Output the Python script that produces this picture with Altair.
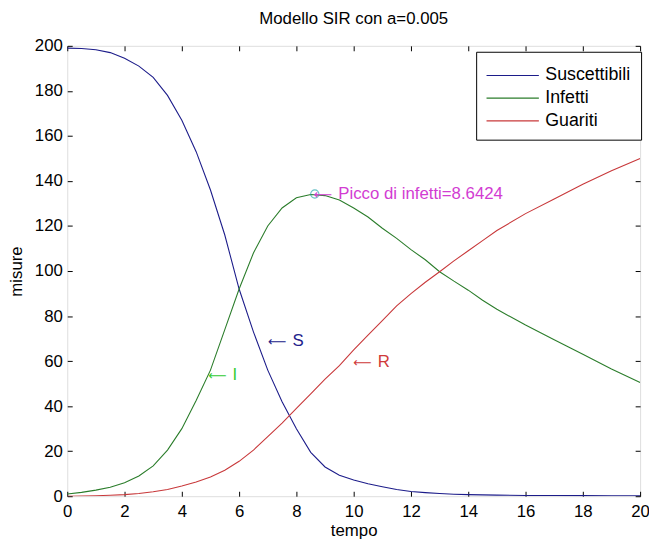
import altair as alt
import pandas as pd

FONT = "Liberation Sans, Arial, DejaVu Sans"
ARROW_FONT = "DejaVu Sans"

# time grid
t_vals = [0, 0.5, 1, 1.5, 2, 2.5, 3, 3.5, 4, 4.5, 5, 5.5, 6, 6.5, 7, 7.5, 8, 8.5, 9, 9.5,
          10, 10.5, 11, 11.5, 12, 12.5, 13, 13.5, 14, 14.5, 15, 16, 17, 18, 19, 20]
S_vals = [199, 198.8, 198.3, 197, 194.5, 191, 186, 178, 167, 153, 136, 116, 92, 73, 56, 42, 30, 19.5, 13, 9.3,
          7.2, 5.5, 4.2, 3, 2.1, 1.6, 1.2, 0.9, 0.7, 0.6, 0.5, 0.35, 0.3, 0.25, 0.2, 0.2]
I_vals = [1, 1.7, 2.7, 4, 6, 9, 13.5, 20.5, 30, 42.5, 56, 74, 92, 108, 120, 128, 132.5, 134, 133.5, 131.5,
          128, 124, 119, 114.5, 109.5, 105, 99.7, 95.5, 91.5, 87, 83, 76, 69.5, 63, 56.5, 50.5]
R_vals = [0, 0.1, 0.2, 0.4, 0.7, 1.2, 2, 3, 4.5, 6.3, 8.5, 11.5, 15.5, 20.5, 26.5, 32.5, 39, 45.5, 52, 58,
          65, 71.5, 78, 84.5, 90, 95, 99.7, 104.5, 109, 113.5, 118, 125.5, 132, 138.5, 144.5, 150]

series_names = ["Suscettibili", "Infetti", "Guariti"]
series_colors = ["#1c1c8a", "#2b7d2b", "#c8383a"]

peak_t = [8.6424]
peak_v = [134.2]

ann_text = ["Picco di infetti=8.6424", "I", "S", "R"]
ann_x = [8.6, 4.91, 7.0, 9.98]
ann_y = [134.2, 53.6, 69, 59.6]
ann_color = ["#d23cd2", "#33cc33", "#22228c", "#d03a3a"]

x_ticks = list(range(0, 21, 2))
y_ticks = list(range(0, 201, 20))

rows = []
for name, vals in zip(series_names, [S_vals, I_vals, R_vals]):
    for t, v in zip(t_vals, vals):
        rows.append({"t": t, "value": v, "series": name})
df = pd.DataFrame(rows)
peak_df = pd.DataFrame({"t": peak_t, "value": peak_v})
ann_df = pd.DataFrame({"t": ann_x, "value": ann_y, "label": ann_text, "col": ann_color,
                       "arrow": ["\u27f5"] * len(ann_text)})

xscale = alt.Scale(domain=[0, 20], nice=False, zero=False)
yscale = alt.Scale(domain=[0, 200], nice=False, zero=False)

lines = alt.Chart(df).mark_line(strokeWidth=1.1, clip=True).encode(
    x=alt.X("t:Q", scale=xscale, axis=alt.Axis(
        orient="bottom", values=x_ticks, offset=-5, tickSize=5, domain=False, grid=False,
        labelPadding=8, labelFlush=False, labelFontSize=17, labelFont=FONT, labelColor="black",
        tickColor="black", title="tempo", titleFont=FONT, titleFontSize=17, titleFontWeight="normal",
        titleColor="black", titlePadding=3)),
    y=alt.Y("value:Q", scale=yscale, axis=alt.Axis(
        orient="left", values=y_ticks, offset=-5, tickSize=5, domain=False, grid=False,
        labelPadding=5, labelFontSize=17, labelFont=FONT, labelColor="black", tickColor="black",
        title="misure", titleFont=FONT, titleFontSize=17, titleFontWeight="normal",
        titleColor="black", titlePadding=9)),
    color=alt.Color("series:N", sort=series_names,
                    scale=alt.Scale(domain=series_names, range=series_colors),
                    legend=alt.Legend(orient="none", legendX=414, legendY=6, title=None,
                                      symbolType="M-2,0H2", symbolSize=702, symbolStrokeWidth=1.2,
                                      symbolOffset=13,
                                      labelFontSize=18, labelFont=FONT, labelColor="black",
                                      strokeColor="black", fillColor="white", padding=10,
                                      rowPadding=-5, labelOffset=19)),
)

frame = alt.Chart(df).mark_line(opacity=0).encode(
    x=alt.X("t:Q", scale=xscale, axis=alt.Axis(
        orient="top", values=x_ticks, offset=-5, tickSize=5, domain=False, grid=False,
        labels=False, title=None, tickColor="black")),
    y=alt.Y("value:Q", scale=yscale, axis=alt.Axis(
        orient="right", values=y_ticks, offset=-5, tickSize=5, domain=False, grid=False,
        labels=False, title=None, tickColor="black")),
    detail="series:N",
)

peak = alt.Chart(peak_df).mark_point(shape="circle", filled=False, size=70, strokeWidth=1.1,
                                     color="#2aa8b0").encode(
    x=alt.X("t:Q", scale=xscale, axis=None),
    y=alt.Y("value:Q", scale=yscale, axis=None),
)

arrows = alt.Chart(ann_df).mark_text(align="left", baseline="middle", font=ARROW_FONT,
                                     fontSize=13, dy=1).encode(
    x=alt.X("t:Q", scale=xscale, axis=None),
    y=alt.Y("value:Q", scale=yscale, axis=None),
    text="arrow:N",
    color=alt.Color("col:N", scale=None),
)

ann = alt.Chart(ann_df).mark_text(align="left", baseline="middle", font=FONT, fontSize=17,
                                  dx=25).encode(
    x=alt.X("t:Q", scale=xscale, axis=None),
    y=alt.Y("value:Q", scale=yscale, axis=None),
    text="label:N",
    color=alt.Color("col:N", scale=None),
)

chart = alt.layer(lines, frame, peak, arrows, ann).resolve_axis(
    x="independent", y="independent"
).properties(
    width=580, height=456,
    title=alt.TitleParams("Modello SIR con a=0.005", font=FONT, fontSize=17, fontWeight="normal",
                          color="black", anchor="middle", offset=9),
    autosize=alt.AutoSizeParams(type="none"),
    padding={"left": 60, "top": 35, "right": 9, "bottom": 40},
).configure_view(stroke="black", strokeWidth=1).configure(background="white")

chart.save("out.html", embed_options={"renderer": "svg", "actions": False})
